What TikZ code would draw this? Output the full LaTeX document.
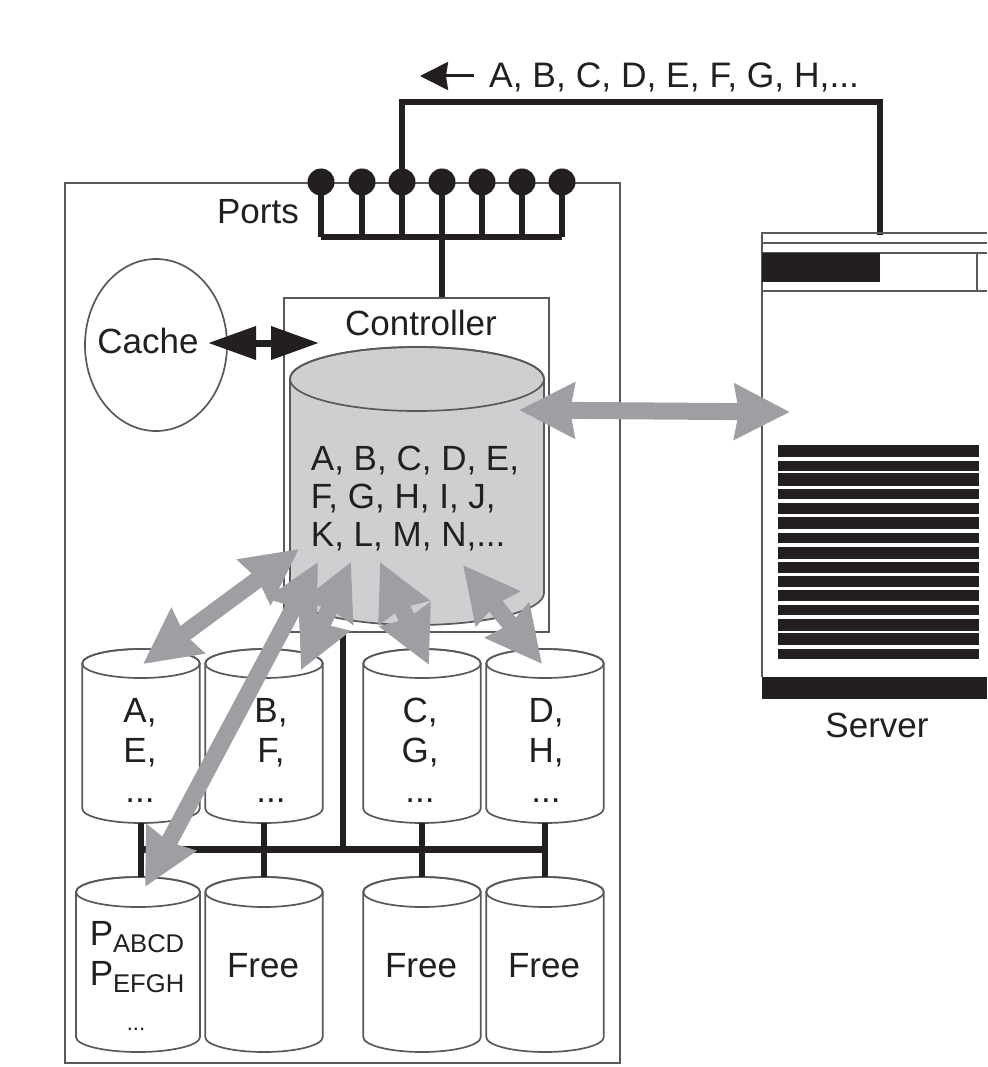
\documentclass[tikz,border=0pt]{standalone}
\usepackage{fontspec}
\setmainfont{Liberation Sans}
\usetikzlibrary{arrows.meta, shapes.geometric}
\definecolor{cInk}{HTML}{231F20}
\definecolor{cLine}{HTML}{58595B}
\definecolor{cGrey}{HTML}{9D9FA2}
\definecolor{cDisk}{HTML}{CDCFD1}
% name, center x, top y, bottom y, x radius, y radius, fill
\newcommand{\diskbody}[7]{%
  \draw[thin line, fill=#7] (#2-#5,#3+#6) arc[start angle=180, end angle=0, x radius=#5pt, y radius=#6pt]
    -- (#2+#5,#4-#6) arc[start angle=0, end angle=-180, x radius=#5pt, y radius=#6pt] -- cycle;
  \draw[thin line] (#2,#3+#6) ellipse[x radius=#5pt, y radius=#6pt];
  \node[minimum width=2*#5pt, minimum height=#4pt-#3pt, inner sep=0pt] (#1) at (#2,#3/2+#4/2) {};
}

\begin{document}
\begin{tikzpicture}[
  x=1pt, y=-1pt,
  font=\fontsize{35}{40}\selectfont, text=cInk,
  thin line/.style={draw=cLine, line width=1.7pt},
  disklbl/.style={align=center, inner sep=0pt},
  port/.style={circle, fill=cInk, minimum size=27pt, inner sep=0pt},
  lnk/.style={draw=cInk, line width=5.5pt},
  garr/.style={{Stealth[length=55pt, width=54pt, inset=4pt]}-{Stealth[length=55pt, width=54pt, inset=4pt]},
               draw=cGrey, fill=cGrey, line width=17pt},
  karr/.style={{Stealth[length=48pt, width=32pt, inset=0pt]}-{Stealth[length=48pt, width=32pt, inset=0pt]},
               draw=cInk, fill=cInk, line width=7pt},
  bar/.style={fill=cInk}
]
\useasboundingbox (0,0) rectangle (987,1067);

% ENCLOSURE AND CONTROLLER
\node[thin line, minimum width=555pt, minimum height=880pt, inner sep=0pt] (array) at (342.5,623) {};
\node[thin line, minimum width=265pt, minimum height=334pt, inner sep=0pt] (ctrl) at (416.5,465) {};
\node (ctrllbl) at (421,323) {Controller};
\node[ellipse, thin line, minimum width=142pt, minimum height=172pt, inner sep=0pt] (cache) at (156,345) {};
\node (cachelbl) at (148,341) {Cache};

% MAIN DISK
\diskbody{store}{417}{347}{625}{127}{32}{cDisk}
\node[align=left, inner sep=0pt, font=\fontsize{35}{38}\selectfont] (storelbl) at (415,499) {A, B, C, D, E,\\F, G, H, I, J,\\K, L, M, N,...};

% PORTS
\foreach \i/\x in {1/321, 2/362, 3/402, 4/442, 5/482, 6/522, 7/562} {
  \coordinate (c\i) at (\x,237);
  \draw[lnk] (\x,182) -- (c\i);
  \node[port] (p\i) at (\x,182) {};
}
\draw[lnk, line cap=square] (c1) -- (c7);
\draw[lnk] (c4) -- (c4 |- ctrl.north);
\node[anchor=east, inner sep=0pt] (portslbl) at (299,212) {Ports};

% LINK TO SERVER
\coordinate (tl) at (402,102);
\coordinate (tr) at (880,102);
\coordinate (srv) at (880,235);
\draw[lnk, line join=miter] (p3.center) -- (tl) -- (tr) -- (srv);
\node[anchor=west, inner sep=0pt, font=\fontsize{35.4}{40}\selectfont] (seq) at (489,77) {A, B, C, D, E, F, G, H,...};
\coordinate (seqa) at (474,76);
\coordinate (seqb) at (420,76);
\draw[-{Stealth[length=28pt, width=28pt, inset=2pt]}, draw=cInk, line width=3pt] (seqa) -- (seqb);

% SERVER
\draw[thin line] (987,233) -- (762,233) -- (762,677);
\draw[thin line] (762,243) -- (987,243);
\draw[thin line] (762,253) -- (987,253);
\draw[thin line] (762,291) -- (987,291);
\draw[thin line] (977,253) -- (977,291);
\fill[bar] (762,253) rectangle (880,282);
\foreach \a/\b in {445/457, 461/471, 473/486, 489/499, 503/514, 517/529, 533/543, 547/559,
                   562/573, 576/587, 590/601, 605/615, 619/631, 633/645, 649/659} {
  \fill[bar] (778,\a) rectangle (979,\b);
}
\fill[bar] (762,677) rectangle (987,699);
\node (srvlbl) at (877,725) {Server};

% DISKS
\diskbody{da}{141}{649}{823}{58.75}{14.5}{white}
\diskbody{db}{264}{649}{823}{58.75}{14.5}{white}
\diskbody{dc}{422}{649}{823}{58.75}{14.5}{white}
\diskbody{dd}{545}{649}{823}{58.75}{14.5}{white}
\diskbody{de}{138}{877}{1052}{62}{15}{white}
\diskbody{df}{264}{877}{1052}{58.75}{15}{white}
\diskbody{dg}{422}{877}{1052}{58.75}{15}{white}
\diskbody{dh}{545}{877}{1052}{58.75}{15}{white}
\node[disklbl] (dalbl) at (140,750) {A,\\E,\\...};
\node[disklbl] (dblbl) at (271,750) {B,\\F,\\...};
\node[disklbl] (dclbl) at (420,750) {C,\\G,\\...};
\node[disklbl] (ddlbl) at (546,750) {D,\\H,\\...};
\node[disklbl] (dflbl) at (263,966) {Free};
\node[disklbl] (dglbl) at (421,966) {Free};
\node[disklbl] (dhlbl) at (544,966) {Free};
\node[align=center, inner sep=0pt] (parlbl) at (137,957) {P{\fontsize{25.6}{27}\selectfont\raisebox{-7pt}{ABCD}}\\P{\fontsize{25.6}{27}\selectfont\raisebox{-7pt}{EFGH}}};
\node[inner sep=0pt, font=\fontsize{22}{22}\selectfont] (pardots) at (136,1029) {...};

% BUS
\coordinate (bus) at (343,849);
\draw[lnk] (ctrl.south -| bus) -- (bus);
\draw[lnk, line width=7pt] (da.south |- bus) -- (dd.south |- bus);
\draw[lnk, line width=6pt] (da.south) -- (da.south |- de.north);
\draw[lnk, line width=6pt] (db.south) -- (df.north);
\draw[lnk, line width=6pt] (dc.south) -- (dg.north);
\draw[lnk, line width=6pt] (dd.south) -- (dh.north);

% GREY ARROWS
\coordinate (t1a) at (299,549);
\coordinate (t1b) at (143,664);
\coordinate (t2a) at (318,562);
\coordinate (t2b) at (145,887);
\coordinate (t3a) at (351,562);
\coordinate (t3b) at (301,670);
\coordinate (t4a) at (380,562);
\coordinate (t4b) at (429,665);
\coordinate (t5a) at (463,565);
\coordinate (t5b) at (542,664);
\coordinate (t6a) at (519,410);
\coordinate (t6b) at (790,412);
\draw[garr] (t1a) -- (t1b);
\draw[garr] (t2a) -- (t2b);
\draw[garr] (t3a) -- (t3b);
\draw[garr] (t4a) -- (t4b);
\draw[garr] (t5a) -- (t5b);
\draw[garr] (t6a) -- (t6b);

% CACHE ARROW
\coordinate (k1) at (208,343);
\coordinate (k2) at (319,343);
\draw[karr] (k1) -- (k2);
\end{tikzpicture}
\end{document}
